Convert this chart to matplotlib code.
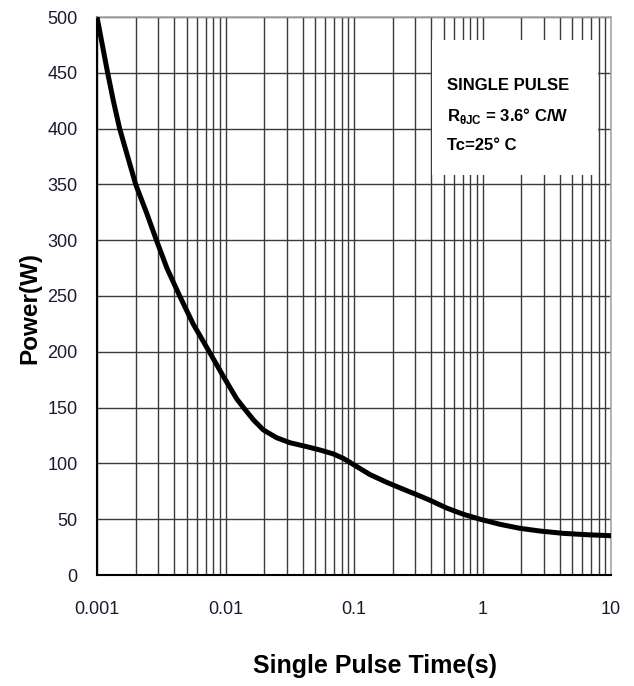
import matplotlib
matplotlib.use("Agg")
import matplotlib.pyplot as plt
from matplotlib.patches import Rectangle
from matplotlib.ticker import FixedLocator, LogLocator, NullFormatter

plt.rcParams['font.family'] = ['Liberation Sans', 'DejaVu Sans']

# Data
pulse_time = [0.001, 0.00121, 0.00134, 0.0015, 0.002, 0.00244, 0.0029, 0.0035, 0.0044,
              0.0056, 0.00748, 0.00962, 0.0122, 0.0138, 0.0165, 0.0197, 0.025,
              0.0318, 0.0429, 0.0544, 0.069, 0.0826, 0.0989, 0.133, 0.18, 0.24,
              0.3, 0.39, 0.526, 0.71, 0.955, 1.37, 1.96, 2.8, 4.26, 6.47, 10.0]
power = [500, 450, 425, 400, 350, 324, 300, 275, 250,
         225, 200, 178, 158, 150, 139, 130, 123,
         118.5, 115, 112, 108.5, 104.5, 99, 90, 83, 77,
         72.5, 67, 60, 54.4, 50, 45.4, 41.8, 39.4, 37.3, 36.1, 35.2]

x_ticks = [0.001, 0.01, 0.1, 1, 10]
x_tick_labels = ["0.001", "0.01", "0.1", "1", "10"]
y_ticks = [0, 50, 100, 150, 200, 250, 300, 350, 400, 450, 500]

fig = plt.figure(figsize=(6.34, 6.86), dpi=100)
ax = fig.add_axes([97/634, 1-575/686, (611-97)/634, (575-17)/686])

ax.set_xscale('log')
ax.set_xlim(0.001, 10)
ax.set_ylim(0, 500)

ax.xaxis.set_major_locator(FixedLocator(x_ticks))
ax.set_xticklabels(x_tick_labels)
ax.xaxis.set_minor_locator(LogLocator(base=10, subs=range(2, 10), numticks=20))
ax.xaxis.set_minor_formatter(NullFormatter())
ax.set_yticks(y_ticks)

ax.set_axisbelow(True)
ax.grid(True, which='both', axis='x', color='#3a3a3a', linewidth=1.0)
ax.grid(True, which='major', axis='y', color='#3a3a3a', linewidth=1.0)

ax.tick_params(axis='both', which='both', length=0, labelsize=13, colors='#1a1a2e')
ax.tick_params(axis='y', pad=14)
ax.tick_params(axis='x', pad=19)

for s in ['left', 'bottom']:
    ax.spines[s].set_color('black')
    ax.spines[s].set_linewidth(1.5)
for s in ['top', 'right']:
    ax.spines[s].set_color('#a8a8a8')
    ax.spines[s].set_linewidth(1.2)

# white annotation box
box_x0 = (432-97)/(611-97)
box_x1 = (598-97)/(611-97)
box_y0 = (575-175)/(575-17)
box_y1 = (575-40)/(575-17)
ax.add_patch(Rectangle((box_x0, box_y0), box_x1-box_x0, box_y1-box_y0,
                       transform=ax.transAxes, facecolor='white', edgecolor='none', zorder=1))

ax.plot(pulse_time, power, color='black', linewidth=3.6, zorder=3)

tx = (447-97)/(611-97)
ax.text(tx, (575-86)/(575-17), "SINGLE PULSE", transform=ax.transAxes, fontsize=12,
        fontweight='bold', va='center', ha='left', zorder=4)
ax.text(tx, (575-116)/(575-17), r"R$_{\mathregular{\theta JC}}$ = 3.6° C/W", transform=ax.transAxes,
        fontsize=12, fontweight='bold', va='center', ha='left', zorder=4)
ax.text(tx, (575-146)/(575-17), "Tc=25° C", transform=ax.transAxes, fontsize=12,
        fontweight='bold', va='center', ha='left', zorder=4)

fig.text(30/634, 1-308/686, "Power(W)", rotation=90, fontsize=17.5, fontweight='bold',
         ha='center', va='center')
fig.text(375/634, 1-666/686, "Single Pulse Time(s)", fontsize=18, fontweight='bold',
         ha='center', va='center')

fig.savefig("out.png", dpi=100)
